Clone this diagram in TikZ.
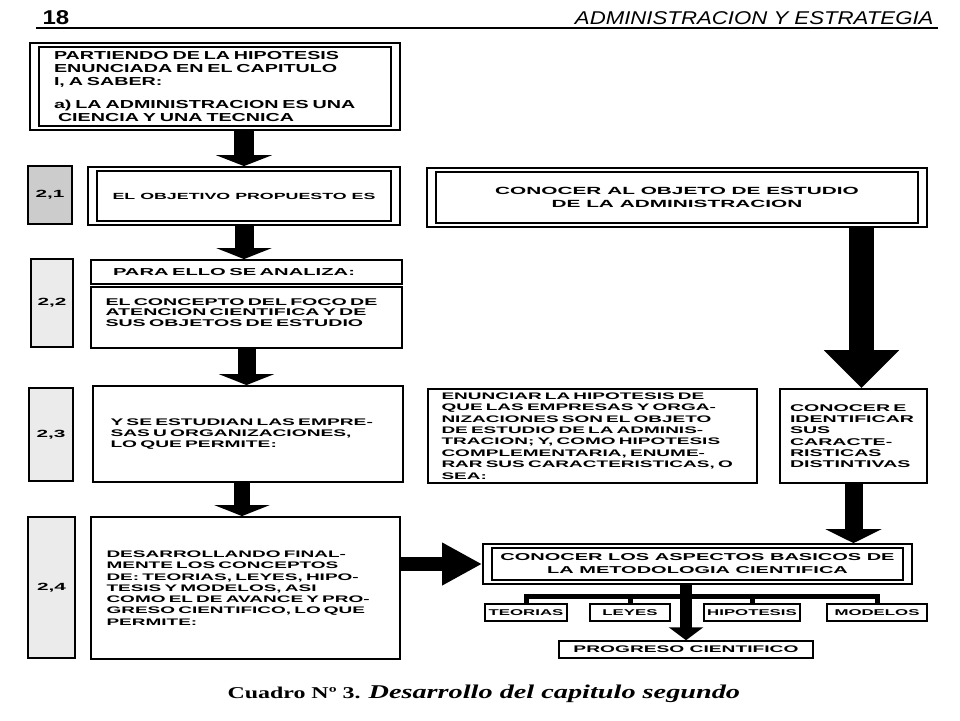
\documentclass[tikz,border=0pt]{standalone}
\usepackage{fontspec}
\newfontfamily\boxfont{Liberation Sans}[FakeStretch=2.0]
\newfontfamily\tallfont{Liberation Sans}[FakeStretch=1.7]
\newfontfamily\headfont{Liberation Sans}[FakeStretch=1.2]
\newfontfamily\capfont{Liberation Serif}[FakeStretch=1.45]
\usetikzlibrary{positioning,calc,arrows.meta}
\newcommand{\jl}[1]{\makebox[\hsize][s]{#1}}

\tikzset{
  fs/.style 2 args={font=\boxfont\bfseries\fontsize{#1}{#2}\selectfont},
  boxframe/.style={draw, line width=1.8pt, inner sep=0pt},
  numbox/.style={boxframe, fill=black!8, fs={10.4}{11}},
  smallbox/.style={boxframe, line width=1.5pt, minimum height=17, fs={8.4}{9}},
  bigarrow/.style n args={3}{line width=#1, -{Triangle[width=#2, length=#3]}},
  branch/.style={line width=5pt},
}

\begin{document}
\begin{tikzpicture}[x=1pt,y=-1pt]
\useasboundingbox (0,0) rectangle (960,720);

% cabecera de pagina
\node[anchor=base west, font=\headfont\bfseries\fontsize{20}{20}\selectfont] (pagenum) at (39,24) {18};
\node[anchor=base east, font=\headfont\itshape\fontsize{18.5}{18.5}\selectfont] (running) at (937,24) {ADMINISTRACION Y ESTRATEGIA};
\draw[line width=2.5pt] (36,28) -- (938,28);

% numeros de seccion
\node[numbox, fill=black!20, minimum width=44, minimum height=58] (n21) at (50,195) {2,1};
\node[numbox, minimum width=42, minimum height=88] (n22) at (52,303) {2,2};
\node[numbox, minimum width=44, minimum height=93] (n23) at (51,434.5) {2,3};
\node[numbox, minimum width=47, minimum height=141] (n24) at (51.5,587.5) {2,4};

% columna izquierda
\node[boxframe, minimum width=370, minimum height=87, text width=322, align=left,
      font=\tallfont\bfseries\fontsize{11.6}{13.2}\selectfont] (partiendo) at (215,86.5)
  {PARTIENDO DE LA HIPOTESIS\\ENUNCIADA EN EL CAPITULO\\I, A SABER:\\[9pt]a) LA ADMINISTRACION ES UNA\\\hspace*{4pt}CIENCIA Y UNA TECNICA};
\node[boxframe, minimum width=312, minimum height=58, fs={8.9}{11}] (objetivo) at (244,196) {EL OBJETIVO PROPUESTO ES};
\node[boxframe, minimum width=311, minimum height=24, text width=267, align=left, fs={10.1}{12}] (para) at (246.5,272) {PARA ELLO SE ANALIZA:};
\node[boxframe, minimum width=311, minimum height=61, text width=282, align=left, fs={9.8}{10.6}] (concepto) at (246.5,317.5)
  {\jl{EL CONCEPTO DEL FOCO DE}\\\jl{ATENCION CIENTIFICA Y DE}\\SUS OBJETOS DE ESTUDIO\\[-0.6pt]\mbox{}};
\node[boxframe, minimum width=310, minimum height=96, text width=275, align=left, fs={9.6}{10.9}] (estudian) at (248,434)
  {\jl{Y SE ESTUDIAN LAS EMPRE-}\\\jl{SAS U ORGANIZACIONES,}\\LO QUE PERMITE:};
\node[boxframe, minimum width=309, minimum height=142, text width=278, align=left, fs={9.5}{11.3}] (desarrollo) at (245.5,588)
  {\jl{DESARROLLANDO FINAL-}\\\jl{MENTE LOS CONCEPTOS}\\\jl{DE: TEORIAS, LEYES, HIPO-}\\\jl{TESIS Y MODELOS, ASI}\\
   \jl{COMO EL DE AVANCE Y PRO-}\\\jl{GRESO CIENTIFICO, LO QUE}\\PERMITE:};

% columna derecha
\node[boxframe, minimum width=500, minimum height=59, align=center, fs={10.4}{12.5}] (objeto) at (677,197.5)
  {CONOCER AL OBJETO DE ESTUDIO\\DE LA ADMINISTRACION};
\node[boxframe, minimum width=329, minimum height=94, text width=302, align=left, fs={9.5}{11.4}] (enunciar) at (592.5,436)
  {\jl{ENUNCIAR LA HIPOTESIS DE}\\\jl{QUE LAS EMPRESAS Y ORGA-}\\\jl{NIZACIONES SON EL OBJETO}\\\jl{DE ESTUDIO DE LA ADMINIS-}\\
   \jl{TRACION; Y, COMO HIPOTESIS}\\\jl{COMPLEMENTARIA, ENUME-}\\\jl{RAR SUS CARACTERISTICAS, O}\\SEA:};
\node[boxframe, minimum width=147, minimum height=94, text width=127, align=left, fs={9.8}{11.3}] (identificar) at (853.5,436)
  {\jl{CONOCER E}\\IDENTIFICAR\\SUS\\CARACTE-\\RISTICAS\\DISTINTIVAS};
\node[boxframe, minimum width=429, minimum height=40, align=center, fs={10}{13}] (aspectos) at (697.5,564)
  {CONOCER LOS ASPECTOS BASICOS DE\\LA METODOLOGIA CIENTIFICA};

\node[smallbox, minimum width=82] (teorias) at (526,612.5) {TEORIAS};
\node[smallbox, minimum width=80] (leyes) at (630,612.5) {LEYES};
\node[smallbox, minimum width=96] (hipotesis) at (752,612.5) {HIPOTESIS};
\node[smallbox, minimum width=100] (modelos) at (877,612.5) {MODELOS};
\node[smallbox, minimum width=254, fs={9.6}{11}] (progreso) at (686,649.5) {PROGRESO CIENTIFICO};

% marcos interiores
\foreach \n in {partiendo,objetivo,objeto,aspectos}
  \draw[line width=1.3pt] ([shift={(10pt,-5pt)}]\n.north west) rectangle ([shift={(-10pt,5pt)}]\n.south east);

% flechas
\draw[bigarrow={20pt}{56pt}{11pt}] (objetivo.north |- partiendo.south) -- (objetivo.north);
\draw[bigarrow={19pt}{55pt}{11pt}] (objetivo.south) -- (objetivo.south |- para.north);
\draw[bigarrow={18pt}{55pt}{11pt}] (concepto.south) -- (concepto.south |- estudian.north);
\draw[bigarrow={16pt}{55pt}{11pt}] ([xshift=-6pt]estudian.south) -- ([xshift=-6pt]estudian.south |- desarrollo.north);
\draw[bigarrow={14pt}{40pt}{40pt}] (desarrollo.east |- aspectos.west) -- (aspectos.west);
\draw[bigarrow={25pt}{73pt}{38pt}] ([xshift=8pt]identificar.north |- objeto.south) -- ([xshift=8pt]identificar.north);
\draw[bigarrow={18pt}{56pt}{14pt}] (identificar.south) -- (identificar.south |- aspectos.north);

% ramas de la metodologia
\coordinate (bar) at ([yshift=-12pt]aspectos.south);
\draw[branch] (teorias.north) -- (teorias.north |- bar) -- (modelos.north |- bar) -- (modelos.north);
\foreach \n in {leyes,hipotesis}
  \draw[branch] (\n.north) -- (\n.north |- bar);
\draw[bigarrow={12pt}{34pt}{13pt}] (aspectos.south -| progreso.north) -- (progreso.north);

% leyenda
\node[anchor=base west, font=\capfont\bfseries\fontsize{16.5}{16.5}\selectfont] (caption) at (224,698)
  {Cuadro Nº 3. \fontsize{19.5}{19.5}\selectfont\itshape Desarrollo del capitulo segundo};
\end{tikzpicture}
\end{document}
